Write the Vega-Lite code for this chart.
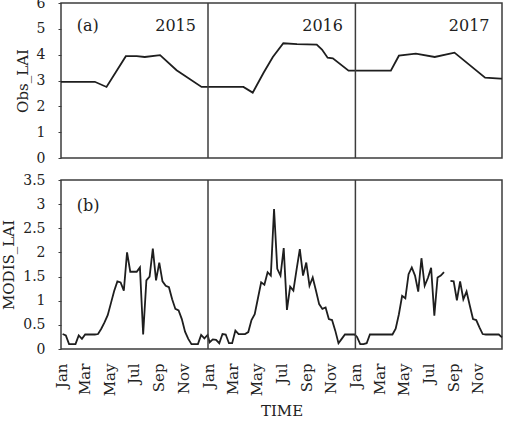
{
  "$schema": "https://vega.github.io/schema/vega-lite/v6.json",
  "padding": {"left": 0, "top": -5, "right": 5, "bottom": 5},
  "spacing": 22,
  "bounds": "flush",
  "config": {
    "font": "DejaVu Serif",
    "view": {"stroke": "#3c3c3c", "strokeWidth": 1.5},
    "axis": {
      "grid": false,
      "domain": false,
      "labelFont": "DejaVu Serif",
      "labelFontSize": 14,
      "labelColor": "#222222",
      "labelOverlap": false,
      "titleFont": "DejaVu Serif",
      "titleFontSize": 15,
      "titleFontWeight": "normal",
      "titleColor": "#222222",
      "tickColor": "#3c3c3c",
      "tickSize": 3
    }
  },
  "datasets": {
    "obs": [
      {"date": "2015-01-01", "lai": 2.95},
      {"date": "2015-03-26", "lai": 2.95},
      {"date": "2015-04-24", "lai": 2.75},
      {"date": "2015-06-11", "lai": 3.94},
      {"date": "2015-07-08", "lai": 3.94},
      {"date": "2015-07-28", "lai": 3.91},
      {"date": "2015-09-04", "lai": 3.98},
      {"date": "2015-10-15", "lai": 3.4},
      {"date": "2015-12-16", "lai": 2.75},
      {"date": "2016-01-01", "lai": 2.75},
      {"date": "2016-03-29", "lai": 2.75},
      {"date": "2016-04-21", "lai": 2.53},
      {"date": "2016-05-18", "lai": 3.3},
      {"date": "2016-06-10", "lai": 3.91},
      {"date": "2016-07-06", "lai": 4.44},
      {"date": "2016-08-09", "lai": 4.41},
      {"date": "2016-09-27", "lai": 4.39},
      {"date": "2016-10-10", "lai": 4.2},
      {"date": "2016-10-24", "lai": 3.88},
      {"date": "2016-11-06", "lai": 3.86},
      {"date": "2016-12-15", "lai": 3.38},
      {"date": "2017-01-01", "lai": 3.38},
      {"date": "2017-03-30", "lai": 3.38},
      {"date": "2017-04-19", "lai": 3.96},
      {"date": "2017-05-31", "lai": 4.04},
      {"date": "2017-07-17", "lai": 3.91},
      {"date": "2017-09-04", "lai": 4.08},
      {"date": "2017-11-19", "lai": 3.11},
      {"date": "2017-12-27", "lai": 3.07},
      {"date": "2017-12-31", "lai": 3.07}
    ],
    "modis": [
      {"date": "2015-01-05", "lai": 0.31},
      {"date": "2015-01-13", "lai": 0.28},
      {"date": "2015-01-21", "lai": 0.1},
      {"date": "2015-01-29", "lai": 0.1},
      {"date": "2015-02-06", "lai": 0.1},
      {"date": "2015-02-14", "lai": 0.28},
      {"date": "2015-02-22", "lai": 0.21},
      {"date": "2015-03-02", "lai": 0.3},
      {"date": "2015-03-10", "lai": 0.3},
      {"date": "2015-03-18", "lai": 0.3},
      {"date": "2015-03-26", "lai": 0.3},
      {"date": "2015-04-03", "lai": 0.31},
      {"date": "2015-04-11", "lai": 0.42},
      {"date": "2015-04-19", "lai": 0.55},
      {"date": "2015-04-27", "lai": 0.7},
      {"date": "2015-05-05", "lai": 0.95},
      {"date": "2015-05-13", "lai": 1.2},
      {"date": "2015-05-21", "lai": 1.4},
      {"date": "2015-05-29", "lai": 1.38},
      {"date": "2015-06-06", "lai": 1.21},
      {"date": "2015-06-14", "lai": 2.0},
      {"date": "2015-06-22", "lai": 1.6},
      {"date": "2015-06-30", "lai": 1.6},
      {"date": "2015-07-08", "lai": 1.6},
      {"date": "2015-07-16", "lai": 1.69},
      {"date": "2015-07-24", "lai": 0.3},
      {"date": "2015-08-01", "lai": 1.42},
      {"date": "2015-08-09", "lai": 1.5},
      {"date": "2015-08-17", "lai": 2.08},
      {"date": "2015-08-25", "lai": 1.42},
      {"date": "2015-09-02", "lai": 1.79},
      {"date": "2015-09-10", "lai": 1.4},
      {"date": "2015-09-18", "lai": 1.31},
      {"date": "2015-09-26", "lai": 1.28},
      {"date": "2015-10-04", "lai": 1.03},
      {"date": "2015-10-12", "lai": 0.83},
      {"date": "2015-10-20", "lai": 0.8},
      {"date": "2015-10-28", "lai": 0.62},
      {"date": "2015-11-05", "lai": 0.36},
      {"date": "2015-11-13", "lai": 0.21},
      {"date": "2015-11-21", "lai": 0.1},
      {"date": "2015-11-29", "lai": 0.1},
      {"date": "2015-12-07", "lai": 0.1},
      {"date": "2015-12-15", "lai": 0.29},
      {"date": "2015-12-23", "lai": 0.22},
      {"date": "2015-12-31", "lai": 0.29},
      {"date": "2016-01-05", "lai": 0.14},
      {"date": "2016-01-13", "lai": 0.2},
      {"date": "2016-01-21", "lai": 0.19},
      {"date": "2016-01-29", "lai": 0.12},
      {"date": "2016-02-06", "lai": 0.31},
      {"date": "2016-02-14", "lai": 0.3},
      {"date": "2016-02-22", "lai": 0.12},
      {"date": "2016-03-01", "lai": 0.12},
      {"date": "2016-03-09", "lai": 0.38},
      {"date": "2016-03-17", "lai": 0.31},
      {"date": "2016-03-25", "lai": 0.31},
      {"date": "2016-04-02", "lai": 0.31},
      {"date": "2016-04-10", "lai": 0.35},
      {"date": "2016-04-18", "lai": 0.6},
      {"date": "2016-04-26", "lai": 0.72},
      {"date": "2016-05-04", "lai": 1.05},
      {"date": "2016-05-12", "lai": 1.38},
      {"date": "2016-05-20", "lai": 1.33},
      {"date": "2016-05-28", "lai": 1.59},
      {"date": "2016-06-05", "lai": 1.52},
      {"date": "2016-06-13", "lai": 2.9},
      {"date": "2016-06-21", "lai": 1.66},
      {"date": "2016-06-29", "lai": 1.52},
      {"date": "2016-07-07", "lai": 2.09},
      {"date": "2016-07-15", "lai": 0.81},
      {"date": "2016-07-23", "lai": 1.29},
      {"date": "2016-07-31", "lai": 1.21},
      {"date": "2016-08-08", "lai": 1.65},
      {"date": "2016-08-16", "lai": 2.07},
      {"date": "2016-08-24", "lai": 1.52},
      {"date": "2016-09-01", "lai": 1.79},
      {"date": "2016-09-09", "lai": 1.31},
      {"date": "2016-09-17", "lai": 1.48},
      {"date": "2016-09-25", "lai": 1.21},
      {"date": "2016-10-03", "lai": 0.93},
      {"date": "2016-10-11", "lai": 0.83},
      {"date": "2016-10-19", "lai": 0.86},
      {"date": "2016-10-27", "lai": 0.62},
      {"date": "2016-11-04", "lai": 0.6},
      {"date": "2016-11-12", "lai": 0.38},
      {"date": "2016-11-20", "lai": 0.12},
      {"date": "2016-11-28", "lai": 0.21},
      {"date": "2016-12-06", "lai": 0.3},
      {"date": "2016-12-14", "lai": 0.3},
      {"date": "2016-12-22", "lai": 0.3},
      {"date": "2016-12-30", "lai": 0.3},
      {"date": "2017-01-05", "lai": 0.25},
      {"date": "2017-01-13", "lai": 0.1},
      {"date": "2017-01-21", "lai": 0.1},
      {"date": "2017-01-29", "lai": 0.12},
      {"date": "2017-02-06", "lai": 0.3},
      {"date": "2017-02-14", "lai": 0.3},
      {"date": "2017-02-22", "lai": 0.3},
      {"date": "2017-03-02", "lai": 0.3},
      {"date": "2017-03-10", "lai": 0.3},
      {"date": "2017-03-18", "lai": 0.3},
      {"date": "2017-03-26", "lai": 0.3},
      {"date": "2017-04-03", "lai": 0.3},
      {"date": "2017-04-11", "lai": 0.42},
      {"date": "2017-04-19", "lai": 0.72},
      {"date": "2017-04-27", "lai": 1.1},
      {"date": "2017-05-05", "lai": 1.05},
      {"date": "2017-05-13", "lai": 1.55},
      {"date": "2017-05-21", "lai": 1.69},
      {"date": "2017-05-29", "lai": 1.52},
      {"date": "2017-06-06", "lai": 1.19},
      {"date": "2017-06-14", "lai": 1.88},
      {"date": "2017-06-22", "lai": 1.31},
      {"date": "2017-06-30", "lai": 1.47},
      {"date": "2017-07-08", "lai": 1.68},
      {"date": "2017-07-16", "lai": 0.69},
      {"date": "2017-07-24", "lai": 1.48},
      {"date": "2017-08-01", "lai": 1.52},
      {"date": "2017-08-09", "lai": 1.59},
      {"date": "2017-08-17", "lai": null},
      {"date": "2017-08-25", "lai": 1.41},
      {"date": "2017-09-02", "lai": 1.4},
      {"date": "2017-09-10", "lai": 1.01},
      {"date": "2017-09-18", "lai": 1.4},
      {"date": "2017-09-26", "lai": 1.03},
      {"date": "2017-10-04", "lai": 1.19},
      {"date": "2017-10-12", "lai": 0.9},
      {"date": "2017-10-20", "lai": 0.62},
      {"date": "2017-10-28", "lai": 0.6},
      {"date": "2017-11-05", "lai": 0.45},
      {"date": "2017-11-13", "lai": 0.31},
      {"date": "2017-11-21", "lai": 0.3},
      {"date": "2017-11-29", "lai": 0.3},
      {"date": "2017-12-07", "lai": 0.3},
      {"date": "2017-12-15", "lai": 0.3},
      {"date": "2017-12-23", "lai": 0.3},
      {"date": "2017-12-31", "lai": 0.24}
    ],
    "yearBreaks": [
      {"date": "2016-01-01"},
      {"date": "2017-01-01"}
    ]
  },
  "vconcat": [
    {
      "width": 441,
      "height": 155,
      "layer": [
        {
          "data": {"name": "obs"},
          "mark": {"type": "line", "color": "#1e1e1e", "strokeWidth": 1.8},
          "encoding": {
            "x": {
              "field": "date", "type": "temporal",
              "scale": {"type": "utc", "domain": [{"year": 2015, "month": 1, "date": 1, "utc": true}, {"year": 2017, "month": 12, "date": 31, "utc": true}]},
              "axis": null
            },
            "y": {
              "field": "lai", "type": "quantitative",
              "scale": {"domain": [0, 6]},
              "axis": {"title": "Obs_LAI", "values": [0, 1, 2, 3, 4, 5, 6], "labelPadding": 13, "titlePadding": 6}
            }
          }
        },
        {
          "data": {"name": "yearBreaks"},
          "mark": {"type": "rule", "color": "#3c3c3c", "strokeWidth": 1.5},
          "encoding": {"x": {"field": "date", "type": "temporal", "axis": null}}
        },
        {
          "data": {"values": [{"date": "2015-02-09", "lai": 5.1, "label": "(a)"}]},
          "mark": {"type": "text", "align": "left", "baseline": "middle", "fontSize": 16, "color": "#222222"},
          "encoding": {
            "x": {"field": "date", "type": "temporal", "axis": null},
            "y": {"field": "lai", "type": "quantitative", "axis": {"title": "Obs_LAI", "values": [0, 1, 2, 3, 4, 5, 6], "labelPadding": 13, "titlePadding": 6}},
            "text": {"field": "label"}
          }
        },
        {
          "data": {"values": [
            {"date": "2015-12-02", "lai": 5.1, "label": "2015"},
            {"date": "2016-12-01", "lai": 5.1, "label": "2016"},
            {"date": "2017-11-30", "lai": 5.1, "label": "2017"}
          ]},
          "mark": {"type": "text", "align": "right", "baseline": "middle", "fontSize": 16, "color": "#222222"},
          "encoding": {
            "x": {"field": "date", "type": "temporal", "axis": null},
            "y": {"field": "lai", "type": "quantitative", "axis": {"title": "Obs_LAI", "values": [0, 1, 2, 3, 4, 5, 6], "labelPadding": 13, "titlePadding": 6}},
            "text": {"field": "label"}
          }
        }
      ]
    },
    {
      "width": 441,
      "height": 169,
      "layer": [
        {
          "data": {"name": "modis"},
          "mark": {"type": "line", "color": "#1e1e1e", "strokeWidth": 1.8, "invalid": "break-paths-show-domains"},
          "encoding": {
            "x": {
              "field": "date", "type": "temporal",
              "scale": {"type": "utc", "domain": [{"year": 2015, "month": 1, "date": 1, "utc": true}, {"year": 2017, "month": 12, "date": 31, "utc": true}]},
              "axis": {
                "title": "TIME",
                "format": "%b",
                "tickCount": {"interval": "month", "step": 2},
                "labelAngle": 270,
                "labelFontSize": 15,
                "labelPadding": 14,
                "ticks": false,
                "titlePadding": 8
              }
            },
            "y": {
              "field": "lai", "type": "quantitative",
              "scale": {"domain": [0, 3.5]},
              "axis": {"title": "MODIS_LAI", "values": [0, 0.5, 1, 1.5, 2, 2.5, 3, 3.5], "format": ".1~f", "labelPadding": 13, "titlePadding": 6}
            }
          }
        },
        {
          "data": {"name": "yearBreaks"},
          "mark": {"type": "rule", "color": "#3c3c3c", "strokeWidth": 1.5},
          "encoding": {"x": {"field": "date", "type": "temporal"}}
        },
        {
          "data": {"values": [{"date": "2015-02-09", "lai": 2.97, "label": "(b)"}]},
          "mark": {"type": "text", "align": "left", "baseline": "middle", "fontSize": 16, "color": "#222222"},
          "encoding": {
            "x": {"field": "date", "type": "temporal"},
            "y": {"field": "lai", "type": "quantitative", "axis": {"title": "MODIS_LAI", "values": [0, 0.5, 1, 1.5, 2, 2.5, 3, 3.5], "format": ".1~f", "labelPadding": 13, "titlePadding": 6}},
            "text": {"field": "label"}
          }
        }
      ]
    }
  ]
}
